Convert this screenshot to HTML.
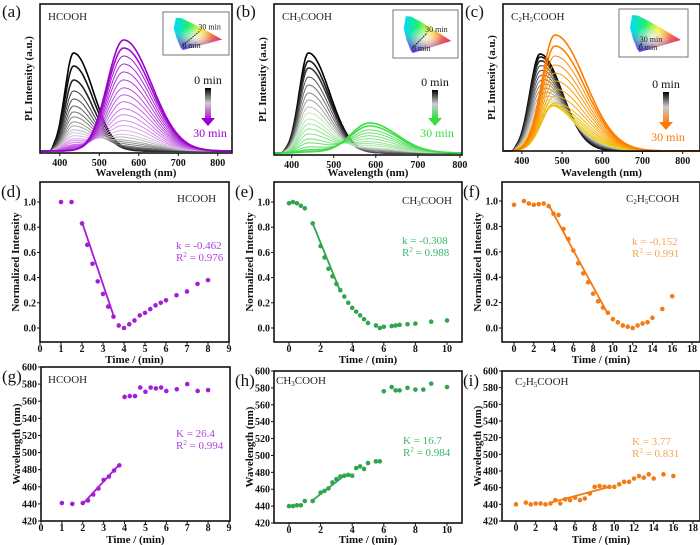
<!DOCTYPE html>
<html><head><meta charset="utf-8"><style>
html,body{margin:0;padding:0;background:#fff;}
svg{display:block;font-family:"Liberation Serif",serif;}
.tk{font-size:10px;font-weight:bold;fill:#111;}
.ti{font-size:11px;font-weight:bold;fill:#111;}
.pl{font-size:17px;fill:#111;}
.nm{font-size:11px;fill:#222;}
</style></head><body>
<svg id="chart" width="700" height="545" viewBox="0 0 700 545" xmlns="http://www.w3.org/2000/svg">
<defs>
<linearGradient id="cieH" x1="0" y1="0" x2="1" y2="0"><stop offset="0" stop-color="#00d8ff"/><stop offset="0.3" stop-color="#20f070"/><stop offset="0.55" stop-color="#f0f020"/><stop offset="1" stop-color="#ff2030"/></linearGradient>
<linearGradient id="cieV" x1="0" y1="0" x2="0" y2="1"><stop offset="0.45" stop-color="#ff40c0" stop-opacity="0"/><stop offset="1" stop-color="#6020ff" stop-opacity="0.9"/></linearGradient>
<radialGradient id="cieW" cx="0.45" cy="0.6" r="0.35"><stop offset="0" stop-color="#fff" stop-opacity="0.85"/><stop offset="1" stop-color="#fff" stop-opacity="0"/></radialGradient>
<linearGradient id="arrA" x1="0" y1="0" x2="0" y2="1"><stop offset="0" stop-color="#000"/><stop offset="0.5" stop-color="#ccc"/><stop offset="1" stop-color="#b020e0"/></linearGradient>
<linearGradient id="arrB" x1="0" y1="0" x2="0" y2="1"><stop offset="0" stop-color="#000"/><stop offset="0.5" stop-color="#ccc"/><stop offset="1" stop-color="#33dd44"/></linearGradient>
<linearGradient id="arrC" x1="0" y1="0" x2="0" y2="1"><stop offset="0" stop-color="#000"/><stop offset="0.5" stop-color="#ccc"/><stop offset="1" stop-color="#ff8010"/></linearGradient>
</defs>
</svg>
<script>
// ===== DATA =====
// spectra component amplitudes (a.u.) per time step
const specA_blue=[98,85,71,60,52,45,39,34,29,25,21,18,15,12,10,8,6,5,4,3,2,1,0,0,0,0];
const specA_red=[0,0,0,1,2,3,4,6,8,10,13,16,20,25,30,36,42,49,56,63,71,79,87,95,103,111];
const specB_blue=[100,92,85,76,68,60,53,46,40,34,29,24,19,14,10,6,3,1];
const specB_red=[0,0,0,0,1,2,3,4,5,7,9,11,14,17,20,23,27,30];
const specC_blue=[97,93,88,82,76,70,64,58,52,46,40,34,28,22,16,10,5,0,0,0,0,0,0,0,0,0];
const specC_red=[0,2,4,6,8,10,12,14,16,18,20,22,25,28,32,37,42,48,55,62,70,78,86,95,105,116];
const wlTicks=[400,500,600,700,800];

const timeD=[1,1.5,2,2.25,2.5,2.75,3,3.25,3.5,3.75,4,4.25,4.5,4.75,5,5.25,5.5,5.75,6,6.5,7,7.5,8];
const normD=[1.0,1.0,0.83,0.66,0.51,0.37,0.27,0.17,0.09,0.02,0.0,0.03,0.06,0.10,0.12,0.15,0.18,0.20,0.22,0.26,0.29,0.35,0.38];
const fitTD=[2,3.5]; const fitND=[0.84,0.10];
const timeE=[0,0.25,0.5,0.75,1,1.5,2,2.25,2.5,2.75,3,3.25,3.5,3.75,4,4.25,4.5,4.75,5,5.5,5.75,6,6.5,6.75,7,7.5,8,9,10];
const normE=[0.99,1.0,0.99,0.97,0.95,0.83,0.65,0.56,0.47,0.41,0.35,0.30,0.25,0.20,0.16,0.13,0.10,0.07,0.04,0.02,0.0,0.01,0.015,0.02,0.025,0.03,0.035,0.05,0.06];
const fitTE=[1.5,3.25]; const fitNE=[0.83,0.29];
const timeF=[0,1,1.5,2,2.5,3,3.5,4,4.5,5,5.5,6,6.5,7,7.5,8,8.5,9,9.5,10,10.5,11,11.5,12,12.5,13,13.5,14,15,16];
const normF=[0.97,1.0,0.98,0.97,0.975,0.98,0.96,0.90,0.89,0.78,0.70,0.61,0.51,0.43,0.36,0.27,0.21,0.16,0.12,0.07,0.045,0.02,0.01,0.0,0.02,0.035,0.045,0.08,0.15,0.25];
const fitTF=[3.5,9.5]; const fitNF=[0.97,0.11];
const timeG=[1,1.5,2,2.25,2.5,2.75,3,3.25,3.5,3.75,4,4.25,4.5,4.75,5,5.25,5.5,5.75,6,6.5,7,7.5,8];
const wlG=[441,440,441,444,451,458,468,472,479,485,565,566,566,576,571,576,575,576,572,574,580,572,573];
const fitTG=[2,3.75]; const fitWG=[440,486];
const timeH=[0,0.25,0.5,0.75,1,1.5,2,2.25,2.5,2.75,3,3.25,3.5,3.75,4,4.25,4.5,4.75,5,5.5,5.75,6,6.5,6.75,7,7.5,8,8.5,9,10];
const wlH=[440,440,441,441,446,446,456,458,461,468,472,475,476,477,476,485,487,484,491,493,493,576,581,577,577,580,578,578,585,581];
const fitTH=[1.5,3.5]; const fitWH=[447,476];
const timeI=[0,1,1.5,2,2.5,3,3.5,4,4.5,5,5.5,6,6.5,7,7.5,8,8.5,9,9.5,10,10.5,11,11.5,12,12.5,13,13.5,14,15,16];
const wlI=[440,442,440,441,441,440,441,445,441,446,445,448,445,447,453,461,462,461,461,461,464,467,467,471,474,472,476,471,476,474];
const fitTI=[3.5,9.5]; const fitWI=[442,461];
const normTicks=[0,0.2,0.4,0.6,0.8,1.0];
const wlYTicks=[420,440,460,480,500,520,540,560,580,600];

// ===== DRAWING =====
const NS='http://www.w3.org/2000/svg';
const svg=document.getElementById('chart');
function mk(tag,attrs,parent){const e=document.createElementNS(NS,tag);for(const k in attrs)e.setAttribute(k,attrs[k]);(parent||svg).appendChild(e);return e;}
function txt(x,y,s,cls,extra,parent){const e=mk('text',Object.assign({x:x,y:y,class:cls},extra||{}),parent);e.innerHTML=s;return e;}
function lerp(a,b,t){return a+(b-a)*t;}
function hex(c){return [parseInt(c.substr(1,2),16),parseInt(c.substr(3,2),16),parseInt(c.substr(5,2),16)];}
function mix(c1,c2,t){const a=hex(c1),b=hex(c2);return 'rgb('+a.map((v,i)=>Math.round(lerp(v,b[i],t))).join(',')+')';}
function shape(w,c,sl,sr){const d=w-c;const s=d<0?sl:sr;let v=Math.exp(-d*d/(2*s*s));if(w<385)v*=Math.max(0,(w-375)/10);return v;}

function frame(g,x0,y0,x1,y1,name){
  const r=mk('rect',{x:x0,y:y0,width:x1-x0,height:y1-y0,fill:'none',stroke:'#111','stroke-width':1.6},g);
  
  
}

function spectraPanel(id,letter,title,box,wl0,wl1,base,blueC,redC,ampB,ampR,endColor,midColor,arrGrad,arr,inset,trail){
  const g=mk('g',{});
  
  
  const xs=w=>box[0]+(w-wl0)/(wl1-wl0)*(box[2]-box[0]);
  const ys=v=>base-v;
  const n=ampB.length;
  for(let i=0;i<n;i++){
    const t=i/(n-1);
    let col;
    if(t<0.45) col=mix('#000000','#cfcfcf',t/0.45);
    else col=mix(midColor,endColor,(t-0.45)/0.55);
    let d='';
    for(let w=wl0;w<=wl1;w+=2){
      const v=ampB[i]*shape(w,blueC[0],blueC[1],blueC[2])+ampR[i]*shape(w,redC[0],redC[1],redC[2]);
      d+=(w===wl0?'M':'L')+xs(w).toFixed(1)+','+ys(v).toFixed(1);
    }
    const p=mk('path',{d:d,fill:'none',stroke:col,'stroke-width':(i<3||i>n-3)?1.6:1},g);
    
    
  }
  frame(g,box[0],box[1],box[2],box[3],'plot-frame');
  wlTicks.forEach(w=>{
    const x=xs(w);
    const l=mk('line',{x1:x,x2:x,y1:box[3],y2:box[3]+3,stroke:'#111','stroke-width':1},g);
    
    
    const tl=txt(x,box[3]+13,w,'tk',{'text-anchor':'middle'},g);
    
    
  });
  const xt=txt((box[0]+box[2])/2,176,'Wavelength (nm)','ti',{'text-anchor':'middle'},g);
  
  
  const yx=box[0]-8, yc=(box[1]+box[3])/2;
  const yt=txt(yx,yc,'PL Intensity (a.u.)','ti',{'text-anchor':'middle',transform:'rotate(-90 '+yx+' '+yc+')'},g);
  
  
  const pl=txt(box[0]-38,17,'('+letter+')','pl',{},g);
  
  
  const tt=txt(box[0]+8,20,title,'nm',{},g);
  
  
  // arrow legend
  const ar=mk('rect',{x:arr[0],y:arr[1],width:6,height:arr[2]-arr[1],fill:'url(#'+arrGrad+')'},g);
  
  
  const ah=mk('polygon',{points:(arr[0]-4)+','+arr[2]+' '+(arr[0]+10)+','+arr[2]+' '+(arr[0]+3)+','+(arr[2]+8),fill:endColor},g);
  
  
  const t0=txt(arr[0]+3,arr[1]-4,'0 min','ti',{'text-anchor':'middle','font-size':'12','font-weight':'normal',style:'font-size:12px;font-weight:normal'},g);
  
  
  const t1=txt(arr[0]+5,arr[2]+19,'30 min','ti',{'text-anchor':'middle',fill:endColor,style:'font-size:12px;font-weight:normal;fill:'+endColor},g);
  
  
  // CIE inset
  const [ix,iy,iw,ih]=inset;
  const ig=mk('g',{},g);
  
  
  const ir=mk('rect',{x:ix,y:iy,width:iw,height:ih,fill:'#fff',stroke:'#555','stroke-width':0.8},ig);
  
  
  const px=fx=>ix+8+fx*(iw-10)/0.8, py=fy=>iy+ih-5-fy*(ih-8)/0.9;
  const loc=[[0.17,0.0],[0.14,0.06],[0.08,0.3],[0.04,0.55],[0.07,0.83],[0.15,0.82],[0.3,0.69],[0.45,0.55],[0.6,0.4],[0.73,0.27]];
  const pts=loc.map(p=>px(p[0]).toFixed(1)+','+py(p[1]).toFixed(1)).join(' ');
  ['url(#cieH)','url(#cieV)','url(#cieW)'].forEach(f=>{
    const hs=mk('polygon',{points:pts,fill:f},ig);
    
    
  });
  const tr=mk('line',{x1:px(0.17),y1:py(0.12),x2:px(trail[0]),y2:py(trail[1]),stroke:'#111','stroke-width':1,'stroke-dasharray':'1.5,1'},ig);
  
  
  const c1=txt(px(trail[0])-2,py(trail[1])-1,'30 min','nm',{style:'font-size:8px'},ig);
  
  
  const c0=txt(px(0.16),py(0.05),'0 min','nm',{style:'font-size:8px'},ig);
  
  
}

function scatterPanel(id,letter,title,box,tx0,tx1,ty0,ty1,vy0,vy1,xticks,yticks,yfmt,ts,vs,fitT,fitV,dotColor,txtColor,lines,ytitle,xtY,xtitleY,note){
  const g=mk('g',{});
  
  
  const xs=t=>lerp(tx0[1],tx1[1],(t-tx0[0])/(tx1[0]-tx0[0]));
  const ys=v=>lerp(ty0,ty1,(v-vy0)/(vy1-vy0));
  frame(g,box[0],box[1],box[2],box[3],'plot-frame');
  xticks.forEach(t=>{
    const x=xs(t);
    const l=mk('line',{x1:x,x2:x,y1:box[3],y2:box[3]+3,stroke:'#111','stroke-width':1},g);
    
    
    const tl=txt(x,xtY,t,'tk',{'text-anchor':'middle'},g);
    
    
  });
  yticks.forEach(v=>{
    const y=ys(v);
    const l=mk('line',{x1:box[0]-3,x2:box[0],y1:y,y2:y,stroke:'#111','stroke-width':1},g);
    
    
    const tl=txt(box[0]-4,y+3.5,yfmt(v),'tk',{'text-anchor':'end'},g);
    
    
  });
  const fl=mk('line',{x1:xs(fitT[0]),y1:ys(fitV[0]),x2:xs(fitT[1]),y2:ys(fitV[1]),stroke:dotColor,'stroke-width':1.8},g);
  
  
  ts.forEach((t,i)=>{
    const c=mk('circle',{cx:xs(t),cy:ys(vs[i]),r:2.3,fill:dotColor},g);
    
    
  });
  const xt=txt((box[0]+box[2])/2,xtitleY,'Time / (min)','ti',{'text-anchor':'middle'},g);
  
  
  const yx=box[0]-21, yc=(box[1]+box[3])/2;
  const yt=txt(yx,yc,ytitle,'ti',{'text-anchor':'middle',transform:'rotate(-90 '+yx+' '+yc+')'},g);
  
  
  const pl=txt(box[0]-39,box[1]+15,'('+letter+')','pl',{},g);
  
  
  const tt=txt(title[1],title[2],title[0],'nm',{},g);
  
  
  const a1=txt(note[0],note[1],lines[0],'nm',{style:'fill:'+txtColor},g);
  
  
  const a2=txt(note[0],note[1]+12,lines[1],'nm',{style:'fill:'+txtColor},g);
  
  
}

const MAG='#a41ed6', GRN='#2fa54f', ORG='#f47a12';
const CH3='CH<tspan dy="2" font-size="7">3</tspan><tspan dy="-2">COOH</tspan>';
const C2H5='C<tspan dy="2" font-size="7">2</tspan><tspan dy="-2">H</tspan><tspan dy="2" font-size="7">5</tspan><tspan dy="-2">COOH</tspan>';

spectraPanel('a','a','HCOOH',[40,4,232,153],350,836,151,[435,22,50],[562,42,70],specA_blue,specA_red,'#9a00cc','#e2b6f0','arrA',[205,88,118],[163,12,66,43],[0.42,0.5]);
spectraPanel('b','b',CH3,[274,4,462,155],358,805,153,[440,22,50],[585,45,65],specB_blue,specB_red,'#3bdc44','#c6e8c6','arrB',[432,90,118],[393,10,65,48],[0.38,0.45]);
spectraPanel('c','c',C2H5,[503,4,700,151],353,843,151,[445,25,55],[482,32,75],specC_blue,specC_red,'#ff7a00','#e8e020','arrC',[663,92,122],[619,9,69,48],[0.2,0.2]);

const f1=v=>v.toFixed(1), f0=v=>String(v);
scatterPanel('d','d',['HCOOH',177,202],[40,182,229,342],[0,40],[9,229],328,202,0,1,[0,1,2,3,4,5,6,7,8,9],normTicks,f1,timeD,normD,fitTD,fitND,MAG,'#b040e0',['k = -0.462','R<tspan dy="-4" font-size="7">2</tspan><tspan dy="4"> = 0.976</tspan>'],'Normalized Intensity',352,363,[176,249]);
scatterPanel('e','e',[CH3,402,204],[274,182,462,342],[0,289],[10,447],328,202,0,1,[0,2,4,6,8,10],normTicks,f1,timeE,normE,fitTE,fitNE,GRN,'#3cb86a',['k = -0.308','R<tspan dy="-4" font-size="7">2</tspan><tspan dy="4"> = 0.988</tspan>'],'Normalized Intensity',352,363,[402,244]);
scatterPanel('f','f',[C2H5,626,202],[502,182,700,342],[0,514],[18,692],328,201,0,1,[0,2,4,6,8,10,12,14,16,18],normTicks,f1,timeF,normF,fitTF,fitNF,ORG,'#f5a450',['k = -0.152','R<tspan dy="-4" font-size="7">2</tspan><tspan dy="4"> = 0.991</tspan>'],'Normalized Intensity',352,363,[632,245]);
scatterPanel('g','g',['HCOOH',48,383],[41,367,230,521],[0,41],[9,229],521,367,420,600,[0,1,2,3,4,5,6,7,8,9],wlYTicks,f0,timeG,wlG,fitTG,fitWG,MAG,'#b040e0',['K = 26.4','R<tspan dy="-4" font-size="7">2</tspan><tspan dy="4"> = 0.994</tspan>'],'Wavelength (nm)',531,543,[176,437]);
scatterPanel('h','h',[CH3,276,384],[274,371,462,523],[0,289],[10,447],523,371,420,600,[0,2,4,6,8,10],wlYTicks,f0,timeH,wlH,fitTH,fitWH,GRN,'#3cb86a',['K = 16.7','R<tspan dy="-4" font-size="7">2</tspan><tspan dy="4"> = 0.984</tspan>'],'Wavelength (nm)',533,543,[403,444]);
scatterPanel('i','i',[C2H5,515,385],[502,371,700,521],[0,516],[18,693],521,371,420,600,[0,2,4,6,8,10,12,14,16,18],wlYTicks,f0,timeI,wlI,fitTI,fitWI,ORG,'#f5a450',['K = 3.77','R<tspan dy="-4" font-size="7">2</tspan><tspan dy="4"> = 0.831</tspan>'],'Wavelength (nm)',531,543,[632,445]);
</script>
</body></html>
